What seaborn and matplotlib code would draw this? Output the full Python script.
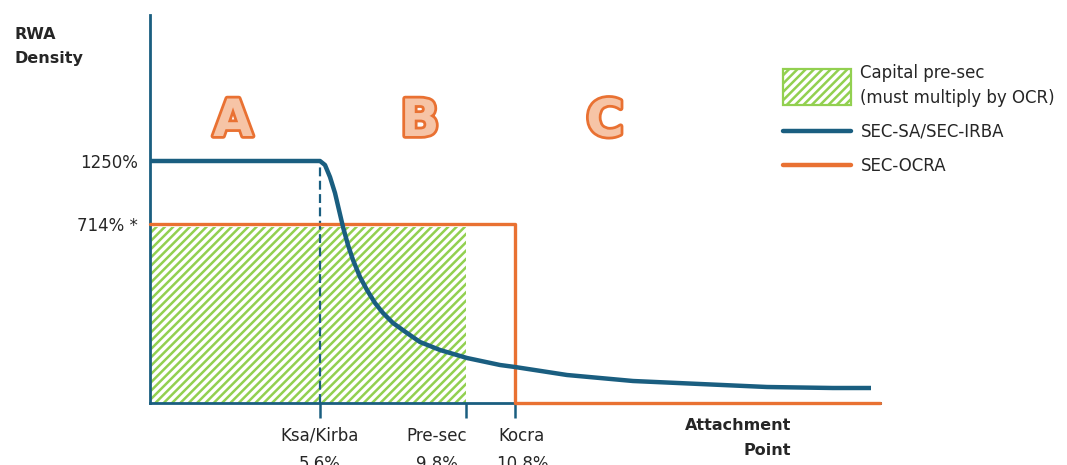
import numpy as np
import pandas as pd
import matplotlib
matplotlib.use("Agg")
import matplotlib.pyplot as plt
import matplotlib.patheffects as pe
import matplotlib.transforms as mtransforms
from matplotlib.patches import Patch, Rectangle
from matplotlib.lines import Line2D
from matplotlib.legend_handler import HandlerPatch
import seaborn as sns

# diagram units (schematic chart, not to scale)
curve_x = [0, 170, 175, 180, 185, 189, 193, 198, 203, 210, 217, 225, 233, 243, 257, 270,
           290, 317, 350, 365, 417, 483, 550, 617, 683, 721]
curve_y = [242, 242, 238, 226, 210, 193, 176, 158, 143, 126, 113, 100, 90, 80, 70, 61,
           53, 45, 38, 36, 28, 22, 19, 16, 15, 15]
ocra_x = [0, 365, 365, 730]
ocra_y = [179, 179, 0, 0]
presec_x = [0, 316]
presec_top = 176

tick_pos = [170, 316, 365]
tick_labels = ["Ksa/Kirba\n5.6%", "Pre-sec\n9.8%", "Kocra\n10.8%"]
tick_shift = [0, -29, 7]  # label offsets in px, as in the source
ytick_pos = [179, 242]
ytick_labels = ["714% *", "1250%"]
zones = ["A", "B", "C"]
zone_x = [83, 270, 455]
zone_y = 281

BLUE = "#1a5e80"
ORANGE = "#e97132"
GREEN = "#92d050"
TXT = "#262626"

sns.set_theme(style="white")
plt.rcParams["font.family"] = ["DejaVu Sans"]
plt.rcParams["hatch.linewidth"] = 1.8

fig = plt.figure(figsize=(10.67, 4.65), dpi=100)
ax = fig.add_axes([150/1067, 62/465, 730/1067, 388/465])
ax.set_xlim(0, 730)
ax.set_ylim(0, 388)

# hatched capital area
ax.fill_between(presec_x, 0, presec_top, facecolor="none", edgecolor=GREEN,
                linewidth=0, hatch="////", zorder=1)

# ksa dashed marker
ax.vlines(tick_pos[0], 0, curve_y[0], colors=BLUE, linestyles=(0, (4, 2)), lw=1.6, zorder=2)

sns.lineplot(x=ocra_x, y=ocra_y, sort=False, estimator=None, color=ORANGE, lw=2.4,
             ax=ax, zorder=4, clip_on=False)
sns.lineplot(x=curve_x, y=curve_y, sort=False, estimator=None, color=BLUE, lw=3.2,
             ax=ax, zorder=5, solid_capstyle="butt", solid_joinstyle="round")

for s in ["top", "right"]:
    ax.spines[s].set_visible(False)
for s in ["left", "bottom"]:
    ax.spines[s].set_color(BLUE)
    ax.spines[s].set_linewidth(2)
    ax.spines[s].set_zorder(3)

ax.set_xticks(tick_pos)
ax.set_xticklabels(tick_labels, fontsize=12, color=TXT, linespacing=1.75)
ax.tick_params(axis="x", direction="out", length=11, width=1.8, color=BLUE, pad=6, bottom=True)
for lab, dx in zip(ax.get_xticklabels(), tick_shift):
    off = mtransforms.ScaledTranslation(dx / 100, 0, fig.dpi_scale_trans)
    lab.set_transform(lab.get_transform() + off)
ax.set_yticks(ytick_pos)
ax.set_yticklabels(ytick_labels, fontsize=12, color=TXT)
ax.tick_params(axis="y", length=0, pad=9)
ax.set_xlabel("")
ax.set_ylabel("")

for lab, xx in zip(zones, zone_x):
    ax.text(xx, zone_y, lab, ha="center", va="center", fontsize=37, fontweight="bold",
            color="#f6c4a6",
            path_effects=[pe.withStroke(linewidth=4, foreground=ORANGE)])

fig.text(15/1067, 1 - 27/465, "RWA\nDensity", ha="left", va="top", fontsize=11.5,
         fontweight="bold", color=TXT, linespacing=1.75)
fig.text(791/1067, 1 - 418/465, "Attachment\nPoint", ha="right", va="top", fontsize=11.5,
         fontweight="bold", color=TXT, linespacing=1.8)


def tall_patch(legend, orig_handle, xdescent, ydescent, width, height, fontsize):
    h = 2.15 * fontsize
    return Rectangle((-xdescent, -ydescent + height / 2 - h / 2), width, h)


handles = [
    Patch(facecolor="white", edgecolor=GREEN, hatch="////", linewidth=1.6),
    Line2D([], [], color=BLUE, lw=3.2),
    Line2D([], [], color=ORANGE, lw=3.2),
]
labels = ["Capital pre-sec\n(must multiply by OCR)", "SEC-SA/SEC-IRBA", "SEC-OCRA"]
leg = fig.legend(handles, labels, loc="upper left", bbox_to_anchor=(783/1067, 1 - 64/465),
                 frameon=False, fontsize=12, handlelength=4.1, handletextpad=0.55,
                 borderpad=0, borderaxespad=0, labelspacing=0.95,
                 handler_map={Patch: HandlerPatch(patch_func=tall_patch)},
                 labelcolor=TXT)
for t in leg.get_texts():
    t.set_linespacing(1.5)

fig.savefig("out.png", dpi=100)
